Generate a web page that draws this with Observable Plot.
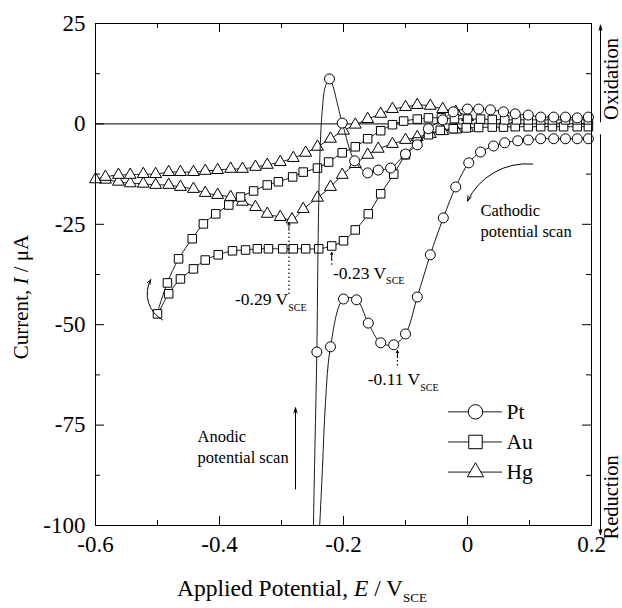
<!DOCTYPE html>
<html><head><meta charset="utf-8">
<script src="https://cdn.jsdelivr.net/npm/d3@7"></script>
<script src="https://cdn.jsdelivr.net/npm/@observablehq/plot@0.6"></script>
<style>
body{margin:0;background:#fff;}
#chart{width:622px;height:608px;}
</style></head><body><div id="chart"></div>
<script>
// ---------- data ----------
// Pt: cathodic scan from +0.2 V, reversal below the plot near -0.25 V, anodic scan back to +0.2 V
// ptMark: 1 = measured point drawn with a symbol, 0 = point on the connecting line only
const ptE = [0.195,0.177,0.158,0.139,0.118,0.098,0.081,0.060,0.042,0.021,0.002,-0.019,-0.039,-0.060,-0.081,-0.100,-0.119,-0.140,-0.160,-0.179,-0.200,-0.221,
             -0.229,-0.234,-0.2385,-0.242,-0.246,-0.249,-0.2485,-0.246,
             -0.243,-0.241,-0.2385,-0.2345,-0.229,-0.2226,-0.202,-0.182,-0.161,-0.144,-0.124,-0.100,-0.081,-0.063,-0.040,-0.023,0.000,0.018,0.037,0.058,0.077,0.098,0.118,0.139,0.158,0.177,0.195];
const ptI = [-3.7,-3.7,-3.7,-3.7,-3.7,-4.0,-4.2,-4.7,-5.5,-7.0,-9.7,-15.7,-23.4,-32.6,-43.1,-52.3,-55.0,-54.5,-49.6,-43.8,-43.6,-55.5,
             -69.2,-85.9,-100.3,-110,-116,-110,-100.3,-80,
             -56.8,-30,-10,3.0,9.5,11.2,0.2,-9.2,-12.2,-11.5,-11.0,-7.5,-5.2,-1.2,1.0,3.0,3.7,3.7,3.5,3.0,2.5,2.2,1.7,1.7,1.7,1.5,1.7];
const ptMark = [1,1,1,1,1,1,1,1,1,1,1,1,1,1,1,1,1,1,1,1,1,1,
                0,0,0,0,0,0,0,0,
                1,0,0,0,0,1,1,1,1,1,1,1,1,1,1,1,1,1,1,1,1,1,1,1,1,1,1];

// Au: cathodic scan from +0.2 V to -0.5 V, then anodic scan back to +0.2 V
const auE = [0.195,0.177,0.155,0.137,0.118,0.098,0.077,0.058,0.040,0.018,-0.002,-0.023,-0.044,-0.063,-0.081,-0.100,-0.119,-0.140,-0.160,-0.181,-0.200,-0.219,-0.240,-0.261,-0.281,-0.298,-0.321,-0.339,-0.358,-0.379,-0.402,-0.423,-0.442,-0.463,-0.482,-0.500,
             -0.484,-0.466,-0.444,-0.426,-0.406,-0.385,-0.366,-0.345,-0.323,-0.305,-0.282,-0.265,-0.242,-0.224,-0.202,-0.181,-0.161,-0.140,-0.121,-0.103,-0.081,-0.063,-0.042,-0.021,0.000,0.021,0.040,0.060,0.079,0.098,0.118,0.137,0.158,0.177,0.195];
const auI = [-0.7,-0.7,-0.7,-0.7,-0.7,-0.7,-0.7,-0.8,-0.8,-0.9,-1.0,-1.2,-1.6,-2.7,-4.5,-7.7,-12.5,-17.4,-22.4,-26.4,-29.1,-30.4,-31.1,-31.1,-31.1,-31.1,-31.1,-31.1,-31.4,-31.6,-32.6,-33.9,-36.1,-38.6,-42.3,-47.3,
             -39.6,-33.6,-28.6,-24.9,-22.4,-20.2,-18.2,-16.7,-15.2,-14.4,-13.2,-12.0,-11.0,-9.5,-7.2,-5.7,-3.7,-1.7,-0.2,0.7,1.2,1.5,1.5,1.3,1.2,1.2,1.1,1.0,1.0,1.0,1.0,1.0,1.0,1.0,1.0];

// Hg: cathodic scan from 0 V to -0.6 V, then anodic scan back to 0 V
const hgE = [0.000,-0.019,-0.040,-0.060,-0.081,-0.100,-0.121,-0.144,-0.161,-0.181,-0.202,-0.221,-0.242,-0.265,-0.283,-0.302,-0.323,-0.342,-0.363,-0.382,-0.403,-0.423,-0.442,-0.463,-0.482,-0.503,-0.523,-0.544,-0.563,-0.584,-0.600,
             -0.584,-0.563,-0.544,-0.523,-0.503,-0.482,-0.463,-0.442,-0.423,-0.403,-0.382,-0.363,-0.342,-0.323,-0.302,-0.281,-0.261,-0.242,-0.221,-0.200,-0.181,-0.161,-0.140,-0.121,-0.100,-0.081,-0.060,-0.040,-0.019,0.000];
const hgI = [-1.0,-1.4,-1.8,-2.5,-3.3,-4.0,-5.0,-6.2,-7.7,-10.0,-12.7,-15.7,-18.4,-21.2,-23.8,-23.2,-22.4,-20.7,-19.4,-18.2,-17.7,-17.2,-16.2,-15.7,-15.2,-15.2,-14.9,-14.8,-14.4,-13.9,-13.8,
             -13.2,-12.7,-12.7,-12.5,-12.5,-12.0,-12.0,-12.0,-11.7,-11.5,-11.2,-11.2,-10.7,-10.2,-9.5,-8.5,-7.2,-5.7,-3.7,-1.7,-0.2,1.2,2.5,3.7,4.2,4.7,4.5,3.7,3.0,1.7];

// axis ticks
const xMajorTicks = [-0.6, -0.4, -0.2, 0, 0.2];
const xMinorTicks = [-0.5, -0.3, -0.1, 0.1];
const yMajorTicks = [25, 0, -25, -50, -75, -100];
const yMinorTicks = [12.5, -12.5, -37.5, -62.5, -87.5];

// legend
const legendNames = ["Pt", "Au", "Hg"];
const legendSymbols = ["circle", "square", "triangle"];

// peak annotations (potential in V, label)
const peakE = [-0.288, -0.219, -0.113];
const peakLabels = ["-0.29 V|SCE", "-0.23 V|SCE", "-0.11 V|SCE"];

// ---------- layout ----------
const W = 622, H = 608;
const mL = 95, mR = 31, mT = 23, mB = 83;
const fw = W - mL - mR, fh = H - mT - mB;
const serif = "Liberation Serif, Tinos, Times New Roman, DejaVu Serif, serif";

const rows = (E, I, M) => E.map((e, i) => ({E: e, I: I[i], m: M ? M[i] : 1}));
const pt = rows(ptE, ptI, ptMark);
const au = rows(auE, auI);
const hg = rows(hgE, hgI);
hg.push({...hg[0]}); // close the Hg loop

const lineOpts = {x: "E", y: "I", curve: "catmull-rom", stroke: "black", strokeWidth: 0.9, clip: true};
const dotOpts = {x: "E", y: "I", fill: "white", stroke: "black", strokeWidth: 1};

// legend layout in data units
const legY = [-71.7, -79.2, -86.7];
const legRows = legendNames.map((n, i) => ({name: n, sym: legendSymbols[i], y: legY[i]}));
const legR = {circle: 7.2, square: 7.6, triangle: 6};

const annText = [
  {E: -0.375, I: -43.6, t: peakLabels[0]},
  {E: -0.217, I: -37.1, t: peakLabels[1]},
  {E: -0.161, I: -63.5, t: peakLabels[2]}
];
const annDots = [
  {E: peakE[0], y1: -42.5, y2: -26.5, ya: -26.5, yb: -24.6},
  {E: peakE[1], y1: -35.2, y2: -33.5, ya: -33.8, yb: -32.0},
  {E: peakE[2], y1: -60.3, y2: -58.0, ya: -58.2, yb: -56.4}
];

const plot = Plot.plot({
  width: W, height: H,
  marginLeft: mL, marginRight: mR, marginTop: mT, marginBottom: mB,
  x: {domain: [-0.6, 0.2]},
  y: {domain: [-100, 25]},
  style: {fontFamily: serif, fontSize: "22px", background: "white", color: "black", overflow: "visible"},
  marks: [
    Plot.ruleY([0], {stroke: "black", strokeWidth: 1}),
    // inward ticks
    Plot.tickX(xMajorTicks, {x: d => d, insetTop: fh - 9, stroke: "black"}),
    Plot.tickX(xMajorTicks, {x: d => d, insetBottom: fh - 9, stroke: "black"}),
    Plot.tickX(xMinorTicks, {x: d => d, insetTop: fh - 5, stroke: "black"}),
    Plot.tickX(xMinorTicks, {x: d => d, insetBottom: fh - 5, stroke: "black"}),
    Plot.tickY(yMajorTicks, {y: d => d, insetRight: fw - 9, stroke: "black"}),
    Plot.tickY(yMajorTicks, {y: d => d, insetLeft: fw - 9, stroke: "black"}),
    Plot.tickY(yMinorTicks, {y: d => d, insetRight: fw - 5, stroke: "black"}),
    Plot.tickY(yMinorTicks, {y: d => d, insetLeft: fw - 5, stroke: "black"}),
    Plot.axisX(xMajorTicks, {tickSize: 0, tickPadding: 10, tickFormat: d => String(d), label: null, fontSize: 23, fontFamily: serif}),
    Plot.axisY(yMajorTicks, {tickSize: 0, tickPadding: 10, tickFormat: d => String(d), label: null, fontSize: 23, fontFamily: serif}),
    // series
    Plot.line(hg, lineOpts),
    Plot.dot(hg.slice(0, -1), {...dotOpts, symbol: "triangle", r: 4.4}),
    Plot.line(au, lineOpts),
    Plot.dot(au, {...dotOpts, symbol: "square", r: 4.8}),
    Plot.line(pt, lineOpts),
    Plot.dot(pt.filter(d => d.m), {...dotOpts, symbol: "circle", r: 5}),
    Plot.frame({stroke: "black", strokeWidth: 1}),
    // peak markers
    Plot.ruleX(annDots, {x: "E", y1: "y1", y2: "y2", stroke: "black", strokeWidth: 1.2, strokeDasharray: "1.5,2.5"}),
    Plot.arrow(annDots, {x1: "E", x2: "E", y1: "ya", y2: "yb", stroke: "black", strokeWidth: 1, headLength: 4, headAngle: 50}),
    Plot.text(annText, {x: "E", y: "I", text: "t", textAnchor: "start", fontSize: 17.5, fontFamily: serif}),
    // scan direction notes
    Plot.text(["Cathodic\npotential scan"], {x: 0.021, y: -23.8, textAnchor: "start", fontSize: 16.5, lineHeight: 1.28, fontFamily: serif}),
    Plot.arrow([{x1: 0.105, y1: -10.0, x2: 0.0, y2: -19.2}], {x1: "x1", y1: "y1", x2: "x2", y2: "y2", bend: -35, stroke: "black", strokeWidth: 1, headLength: 8, headAngle: 40}),
    Plot.text(["Anodic\npotential scan"], {x: -0.4355, y: -80.2, textAnchor: "start", fontSize: 16.5, lineHeight: 1.28, fontFamily: serif}),
    Plot.arrow([{x1: -0.2774, y1: -90.9, x2: -0.2774, y2: -70.7}], {x1: "x1", y1: "y1", x2: "x2", y2: "y2", stroke: "black", strokeWidth: 1, headLength: 8, headAngle: 35}),
    Plot.arrow([{x1: -0.492, y1: -48.8, x2: -0.511, y2: -38.8}], {x1: "x1", y1: "y1", x2: "x2", y2: "y2", bend: 45, stroke: "black", strokeWidth: 1, headLength: 7, headAngle: 40}),
    // oxidation / reduction side markers
    Plot.arrow([{x1: 0.2145, y1: 0.5, x2: 0.2145, y2: 24.6}], {x1: "x1", y1: "y1", x2: "x2", y2: "y2", stroke: "black", strokeWidth: 1, headLength: 8, headAngle: 30}),
    Plot.arrow([{x1: 0.2145, y1: -2.7, x2: 0.2145, y2: -102.3}], {x1: "x1", y1: "y1", x2: "x2", y2: "y2", stroke: "black", strokeWidth: 1, headLength: 8, headAngle: 30}),
    Plot.text(["Oxidation"], {x: 0.2315, y: 11.2, rotate: -90, fontSize: 20.5, fontFamily: serif}),
    Plot.text(["Reduction"], {x: 0.2315, y: -93.0, rotate: -90, fontSize: 20.5, fontFamily: serif}),
    // legend
    Plot.ruleY(legRows, {y: "y", x1: -0.0306, x2: 0.0565, stroke: "black", strokeWidth: 0.9}),
    ...legRows.map(d => Plot.dot([d], {x: 0.0129, y: "y", symbol: d.sym, r: legR[d.sym], fill: "white", stroke: "black", strokeWidth: 1})),
    Plot.text(legRows, {x: 0.0629, y: "y", text: "name", textAnchor: "start", fontSize: 21.5, fontFamily: serif})
  ]
});

document.getElementById("chart").appendChild(plot);

// subscripts in annotation labels ("V|SCE" -> V with subscript SCE)
plot.querySelectorAll("text").forEach(t => {
  if (t.children.length === 0 && t.textContent.includes("|")) {
    const [a, b] = t.textContent.split("|");
    t.textContent = a;
    const s = document.createElementNS("http://www.w3.org/2000/svg", "tspan");
    s.setAttribute("font-size", "10");
    s.setAttribute("dy", "6");
    s.textContent = b;
    t.appendChild(s);
  }
});

// axis titles with italics and subscript
const svg = d3.select(plot);
const yt = svg.append("text")
  .attr("transform", "translate(28,297) rotate(-90)")
  .attr("text-anchor", "middle")
  .attr("font-family", serif).attr("font-size", 21).attr("fill", "black");
yt.append("tspan").text("Current, ");
yt.append("tspan").attr("font-style", "italic").text("I");
yt.append("tspan").text(" / μA");

const xt = svg.append("text")
  .attr("x", 177).attr("y", 596)
  .attr("text-anchor", "start")
  .attr("font-family", serif).attr("font-size", 23.5).attr("fill", "black");
xt.append("tspan").text("Applied Potential, ");
xt.append("tspan").attr("font-style", "italic").text("E");
xt.append("tspan").text(" / V");
xt.append("tspan").attr("font-size", 13).attr("dy", 6).text("SCE");
</script>
</body></html>
